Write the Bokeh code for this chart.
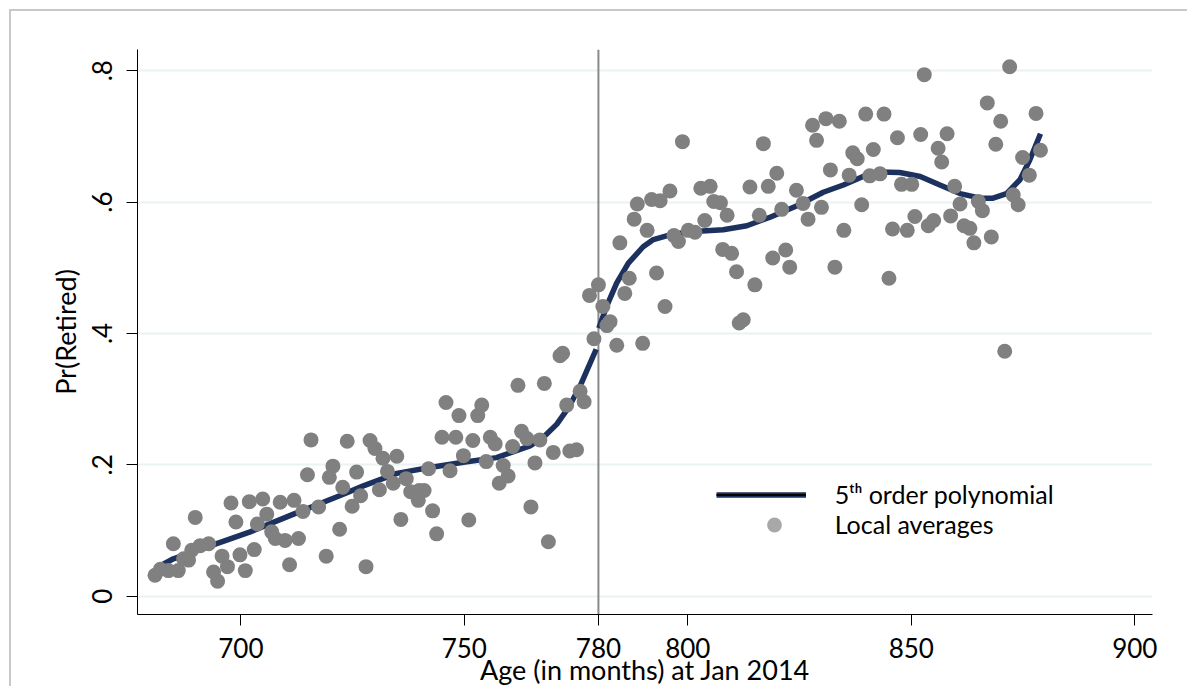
import numpy as np
from bokeh.plotting import figure
from bokeh.models import Range1d, FixedTicker, Span, Legend, LegendItem
from bokeh.embed import file_html
from bokeh.resources import INLINE

# ---- data ----
age = [680.8, 682.0, 683.8, 684.9, 686.0, 687.2, 688.3, 689.0, 689.8, 690.9,
       692.8, 693.9, 694.8, 695.8, 697.0, 697.8, 698.9, 699.8, 701.0, 701.9,
       703.0, 703.7, 704.9, 705.8, 706.9, 707.7, 708.8, 709.9, 710.9, 711.9,
       712.9, 713.9, 714.9, 715.7, 717.4, 719.1, 719.8, 720.6, 722.1, 722.8,
       723.8, 724.9, 725.9, 726.8, 728.0, 728.9, 730.0, 731.0, 731.8, 732.8,
       734.1, 734.9, 735.8, 737.0, 738.0, 739.7, 739.9, 741.0, 742.0, 742.9,
       743.8, 745.0, 745.9, 746.8, 748.1, 748.8, 749.8, 751.0, 751.9, 753.0,
       753.9, 754.9, 755.8, 756.9, 757.8, 758.7, 759.8, 760.8, 762.0, 762.8,
       764.0, 764.9, 765.8, 766.9, 767.9, 768.8, 769.9, 771.4, 772.0, 772.9,
       773.6, 775.1, 775.9, 776.8, 778.0, 779.0, 780.0, 781.0, 781.9, 782.6,
       784.1, 784.8, 785.9, 786.9, 788.0, 788.7, 789.9, 790.9, 791.9, 793.0,
       793.8, 794.9, 796.0, 796.9, 797.9, 798.8, 800.1, 801.6, 802.9, 803.8,
       805.0, 805.8, 807.3, 807.8, 808.8, 809.8, 810.9, 811.5, 812.4, 813.9,
       815.0, 816.0, 816.9, 818.0, 819.0, 819.9, 821.0, 821.9, 822.8, 824.3,
       825.8, 826.9, 827.9, 828.8, 829.9, 830.9, 831.9, 832.9, 833.9, 834.9,
       836.1, 836.9, 837.9, 838.9, 839.8, 840.7, 841.5, 843.0, 843.9, 845.0,
       845.8, 846.9, 847.8, 849.1, 850.1, 850.8, 852.1, 852.9, 853.8, 855.0,
       856.0, 856.8, 858.0, 858.8, 859.7, 860.9, 861.8, 863.1, 864.0, 865.0,
       865.9, 867.0, 867.9, 868.9, 870.0, 870.9, 872.0, 872.8, 873.9, 874.9,
       876.4, 877.9, 878.9]

pr_retired = [0.032, 0.041, 0.039, 0.080, 0.039, 0.057, 0.055, 0.070, 0.120, 0.077,
              0.080, 0.037, 0.023, 0.061, 0.045, 0.142, 0.113, 0.063, 0.039, 0.144,
              0.071, 0.110, 0.148, 0.125, 0.098, 0.088, 0.143, 0.085, 0.048, 0.146,
              0.088, 0.129, 0.185, 0.238, 0.136, 0.061, 0.181, 0.198, 0.102, 0.166,
              0.236, 0.137, 0.189, 0.153, 0.045, 0.237, 0.225, 0.162, 0.210, 0.190,
              0.172, 0.213, 0.117, 0.179, 0.159, 0.146, 0.161, 0.161, 0.194, 0.130,
              0.095, 0.242, 0.295, 0.191, 0.242, 0.275, 0.214, 0.116, 0.237, 0.275,
              0.291, 0.205, 0.242, 0.232, 0.172, 0.199, 0.183, 0.228, 0.321, 0.251,
              0.240, 0.136, 0.203, 0.238, 0.324, 0.083, 0.219, 0.366, 0.370, 0.291,
              0.221, 0.223, 0.312, 0.296, 0.458, 0.392, 0.474, 0.441, 0.412, 0.418,
              0.382, 0.538, 0.461, 0.484, 0.574, 0.597, 0.385, 0.557, 0.604, 0.492,
              0.602, 0.441, 0.617, 0.549, 0.540, 0.692, 0.557, 0.554, 0.621, 0.572,
              0.624, 0.601, 0.599, 0.528, 0.580, 0.522, 0.494, 0.416, 0.421, 0.623,
              0.474, 0.580, 0.689, 0.624, 0.515, 0.644, 0.589, 0.527, 0.501, 0.618,
              0.598, 0.574, 0.717, 0.694, 0.592, 0.727, 0.649, 0.501, 0.723, 0.557,
              0.641, 0.675, 0.666, 0.596, 0.734, 0.640, 0.680, 0.643, 0.734, 0.484,
              0.559, 0.698, 0.627, 0.557, 0.627, 0.578, 0.703, 0.794, 0.564, 0.572,
              0.682, 0.661, 0.704, 0.579, 0.624, 0.597, 0.564, 0.560, 0.538, 0.601,
              0.587, 0.751, 0.547, 0.688, 0.723, 0.373, 0.806, 0.611, 0.596, 0.668,
              0.641, 0.735, 0.679]

fit_left_age = [680.8, 684.9, 694.6, 702.1, 711.8, 722.1, 727.4, 734.9, 742.3,
                749.8, 757.2, 764.7, 767.7, 770.7, 773.3, 775.9, 777.7, 779.5]
fit_left_pr = [0.042, 0.057, 0.080, 0.098, 0.125, 0.153, 0.168, 0.187, 0.196,
               0.204, 0.211, 0.229, 0.242, 0.262, 0.287, 0.320, 0.348, 0.376]

fit_right_age = [780.1, 781.8, 784.1, 786.7, 790.0, 792.3, 796.0, 800.5, 807.9,
                 813.2, 818.4, 824.3, 830.3, 834.8, 839.2, 843.0, 847.4, 852.0,
                 856.4, 860.9, 865.4, 868.3, 871.3, 874.3, 876.5, 878.9]
fit_right_pr = [0.408, 0.441, 0.477, 0.507, 0.532, 0.543, 0.550, 0.555, 0.558,
                0.564, 0.577, 0.594, 0.615, 0.626, 0.639, 0.646, 0.645, 0.639,
                0.626, 0.613, 0.606, 0.606, 0.613, 0.634, 0.664, 0.704]

x_ticks = [700, 750, 780, 800, 850, 900]
y_ticks = [0, 0.2, 0.4, 0.6, 0.8]
y_tick_labels = ["0", ".2", ".4", ".6", ".8"]
cutoff = 780

legend_labels = ["5\u1d57\u02b0 order polynomial", "Local averages"]

# ---- style ----
FONT = "Lato"
NAVY = "#1C315E"
DOT = "#808080"

p = figure(width=1178, height=677, output_backend="svg", toolbar_location=None,
           x_range=Range1d(676.88, 903.96), y_range=Range1d(-0.0278, 0.8323),
           min_border_left=126, min_border_right=37, min_border_top=38,
           min_border_bottom=72, background_fill_color="white",
           border_fill_color="white")
p.styles = {"margin-left": "9px", "margin-top": "9px",
            "border-top": "2px solid #c8c8c8", "border-left": "2px solid #c8c8c8"}
p.outline_line_color = None

p.xgrid.grid_line_color = None
p.ygrid.ticker = FixedTicker(ticks=y_ticks)
p.ygrid.grid_line_color = "#EAF2F3"
p.ygrid.grid_line_width = 2

for ax in (p.xaxis[0], p.yaxis[0]):
    ax.axis_line_color = "black"
    ax.axis_line_width = 1
    ax.major_tick_line_color = "black"
    ax.major_tick_out = 11
    ax.major_tick_in = 0
    ax.minor_tick_line_color = None
    ax.major_label_text_font = FONT
    ax.major_label_text_font_size = "26px"
    ax.major_label_text_color = "black"
    ax.axis_label_text_font = FONT
    ax.axis_label_text_font_size = "27px"
    ax.axis_label_text_font_style = "normal"
    ax.axis_label_text_color = "black"

p.xaxis.ticker = FixedTicker(ticks=x_ticks)
p.xaxis.axis_label = "Age (in months) at Jan 2014"
p.xaxis.major_label_standoff = 12
p.xaxis.axis_label_standoff = -8

p.yaxis.ticker = FixedTicker(ticks=y_ticks)
p.yaxis.major_label_overrides = {t: l for t, l in zip(y_ticks, y_tick_labels)}
p.yaxis.major_label_orientation = "vertical"
p.yaxis.axis_label = "Pr(Retired)"
p.yaxis.major_label_standoff = 14
p.yaxis.axis_label_standoff = 8

p.add_layout(Span(location=cutoff, dimension="height", line_color="#8a8a8a",
                  line_width=2, level="underlay"))

l_left = p.line(fit_left_age, fit_left_pr, line_color=NAVY, line_width=5.5)
l_right = p.line(fit_right_age, fit_right_pr, line_color=NAVY, line_width=5.5)
pts = p.scatter(age, pr_retired, size=15, fill_color=DOT, line_color=None)

# legend-only sample glyphs (no visible data)
leg_core = p.line([np.nan], [np.nan], line_color="black", line_width=2)
leg_dot = p.scatter([np.nan], [np.nan], size=15, fill_color="#A8A8A8", line_color=None)

leg_kw = dict(glyph_width=90, glyph_height=37, padding=0,
              margin=0, border_line_color=None, background_fill_alpha=0,
              label_text_font=FONT, label_text_font_size="25px",
              label_text_color="black")
legend1 = Legend(items=[LegendItem(label=legend_labels[0], renderers=[l_left, leg_core])],
                 location=(578.7, 101.5), label_standoff=29, **leg_kw)
legend2 = Legend(items=[LegendItem(label=legend_labels[1], renderers=[leg_dot])],
                 location=(591.7, 71.5), label_standoff=16, **leg_kw)
p.add_layout(legend1)
p.add_layout(legend2)

open("out.html", "w").write(file_html(p, INLINE))
